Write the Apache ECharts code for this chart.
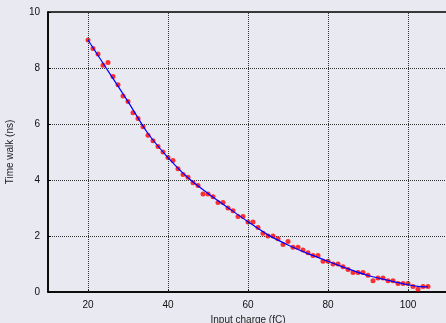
<!DOCTYPE html>
<html><head><meta charset="utf-8">
<script src="https://cdn.jsdelivr.net/npm/echarts@6/dist/echarts.min.js"></script>
<style>html,body{margin:0;padding:0;background:#e9e9f2;}#c{width:446px;height:323px;}</style>
</head><body><div id="c"></div>
<script>
const chargeX = [20,21.25,22.5,23.75,25,26.25,27.5,28.75,30,31.25,32.5,33.75,35,36.25,37.5,38.75,40,41.25,42.5,43.75,45,46.25,47.5,48.75,50,51.25,52.5,53.75,55,56.25,57.5,58.75,60,61.25,62.5,63.75,65,66.25,67.5,68.75,70,71.25,72.5,73.75,75,76.25,77.5,78.75,80,81.25,82.5,83.75,85,86.25,87.5,88.75,90,91.25,92.5,93.75,95,96.25,97.5,98.75,100,101.25,102.5,103.75,105];
const timeWalk = [9.0,8.7,8.5,8.1,8.2,7.7,7.4,7.0,6.8,6.4,6.2,5.9,5.6,5.4,5.2,5.0,4.8,4.7,4.4,4.2,4.1,3.9,3.8,3.5,3.5,3.4,3.2,3.2,3.0,2.9,2.7,2.7,2.5,2.5,2.3,2.1,2.0,2.0,1.9,1.7,1.8,1.6,1.6,1.5,1.4,1.3,1.3,1.1,1.1,1.0,1.0,0.9,0.8,0.7,0.7,0.7,0.6,0.4,0.5,0.5,0.4,0.4,0.3,0.3,0.3,0.2,0.1,0.2,0.2];
const fitX = [20,25,30,35,40,45,50,55,60,65,70,75,80,85,90,95,100,102.5,105];
const fitY = [9.0,7.9,6.8,5.66,4.8,4.08,3.52,3.01,2.51,2.04,1.68,1.37,1.1,0.83,0.59,0.42,0.26,0.2,0.18];
const xTicks = [20,40,60,80,100];
const yTicks = [0,2,4,6,8,10];

const chart = echarts.init(document.getElementById('c'), null, {renderer:'canvas'});
const lab = {color:'#111', fontSize:10, fontFamily:'Liberation Sans, Arial, sans-serif'};
chart.setOption({
  animation:false,
  backgroundColor:'#e9e9f2',
  grid:{left:48, top:12, width:400, height:280, containLabel:false, outerBoundsMode:'none',
    show:true, borderColor:'#000', borderWidth:1.5, backgroundColor:'transparent'},
  xAxis:{type:'value', min:10, max:110,
    name:'Input charge (fC)', nameLocation:'middle', nameGap:22,
    nameTextStyle:{color:'#222', fontSize:10, fontFamily:'Liberation Sans, Arial, sans-serif'},
    axisLine:{show:true, onZero:false, lineStyle:{color:'#000', width:1.5}},
    axisTick:{show:true, inside:true, length:3, customValues:xTicks, lineStyle:{color:'#000'}},
    axisLabel:Object.assign({margin:8, customValues:xTicks}, lab),
    splitLine:{show:false}
  },
  yAxis:{type:'value', min:0, max:10, interval:2,
    name:'Time walk (ns)', nameLocation:'middle', nameGap:33,
    nameTextStyle:{color:'#222', fontSize:10, fontFamily:'Liberation Sans, Arial, sans-serif'},
    axisLine:{show:true, lineStyle:{color:'#000', width:1.5}},
    axisTick:{show:true, inside:true, length:3, lineStyle:{color:'#000'}},
    axisLabel:Object.assign({margin:8}, lab),
    splitLine:{show:true, lineStyle:{color:'#333', type:[1,1], width:1}}
  },
  series:[
    {type:'line', data:fitX.map((x,i)=>[x,fitY[i]]), smooth:0.3, showSymbol:false,
     lineStyle:{color:'#0000ff', width:1.2}, z:5,
     markLine:{silent:true, symbol:'none', label:{show:false},
       lineStyle:{color:'#333', type:[1,1], width:1},
       data:xTicks.map(v=>({xAxis:v}))}},
    {type:'scatter', data:chargeX.map((x,i)=>[x,timeWalk[i]]), symbol:'circle', symbolSize:5,
     itemStyle:{color:'#ff0000'}, z:4}
  ]
});
</script></body></html>
